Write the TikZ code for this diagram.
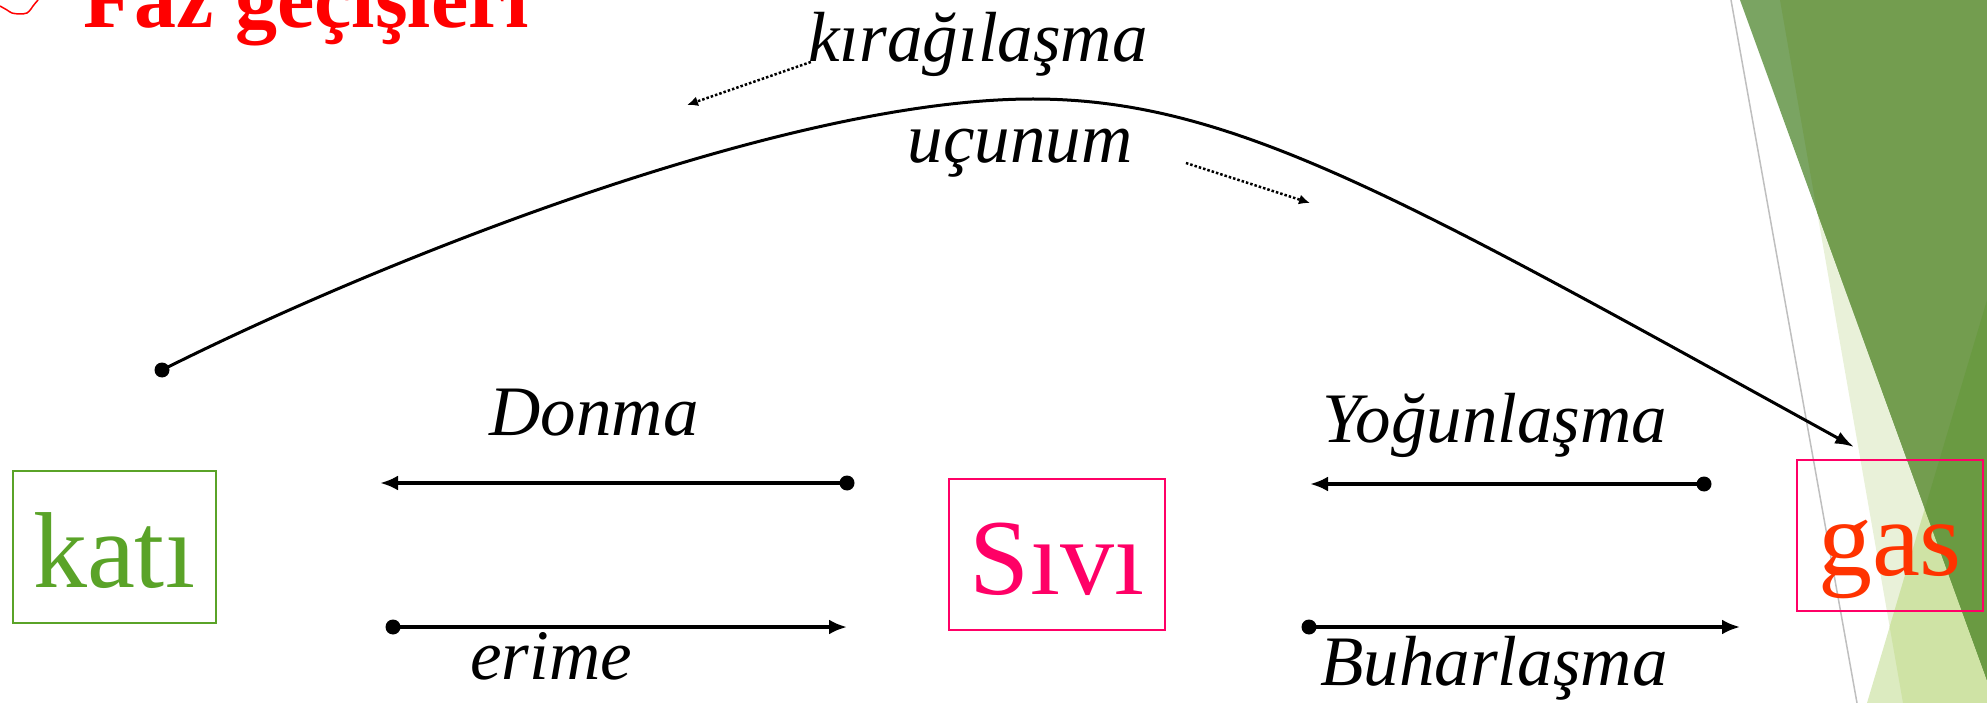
\documentclass[tikz,border=0pt]{standalone}
\usepackage{fontspec}
\setmainfont{Liberation Serif}
\usepackage{xcolor}
\usetikzlibrary{arrows.meta,calc,positioning}

\definecolor{katigreen}{RGB}{90,163,40}
\definecolor{sivipink}{RGB}{255,0,102}
\definecolor{gasred}{RGB}{255,51,0}
\definecolor{titlered}{RGB}{255,0,0}
\definecolor{leafpale}{RGB}{233,241,217}
\definecolor{leaflight}{RGB}{220,235,192}
\definecolor{leaflightb}{RGB}{207,227,165}
\definecolor{leafdark}{RGB}{122,164,98}
\definecolor{leafdarkb}{RGB}{115,157,79}
\definecolor{leafdarkc}{RGB}{106,154,66}

\begin{document}
\begin{tikzpicture}[x=1pt,y=-1pt,
    phase/.style={draw, line width=2pt, inner sep=0pt, text height=80pt, text depth=0pt,
        font=\fontsize{108}{120}\selectfont},
    term/.style={anchor=base, font=\fontsize{71}{80}\selectfont\itshape},
    trans/.style={line width=3.5pt, -{Latex[length=18pt,width=15pt]}},
    hint/.style={line width=2.5pt, dash pattern=on 2.5pt off 2pt, -{Latex[length=11pt,width=10pt]}}]

    \clip (0,0) rectangle (1987,703);

    % Arka plan
    \fill[leafpale] (1780,0) -- (1903,703) -- (1987,703) -- (1987,0) -- cycle;
    \fill[leaflight] (1867,703) -- (1987,300) -- (1987,703) -- cycle;
    \begin{scope}
        \clip (1780,0) -- (1903,703) -- (1987,703) -- (1987,0) -- cycle;
        \fill[leaflightb] (1867,703) -- (1987,300) -- (1987,703) -- cycle;
    \end{scope}
    \fill[leafdark] (1740,0) -- (1987,0) -- (1987,680) -- cycle;
    \begin{scope}
        \clip (1780,0) -- (1903,703) -- (1987,703) -- (1987,0) -- cycle;
        \fill[leafdarkb] (1740,0) -- (1987,0) -- (1987,680) -- cycle;
    \end{scope}
    \begin{scope}
        \clip (1867,703) -- (1987,300) -- (1987,703) -- cycle;
        \fill[leafdarkc] (1740,0) -- (1987,0) -- (1987,680) -- cycle;
    \end{scope}
    \draw[line width=1.5pt, black!25] (1731,0) -- (1857,703);

    % Baslik
    \draw[titlered, line width=1.5pt] plot[smooth] coordinates
        {(0,6) (7,10) (12,13) (20,14) (27,13) (31,9) (33,6) (38,0)};
    \node[anchor=base west, text=titlered, font=\fontsize{84}{90}\selectfont\bfseries]
        (baslik) at (80,28) {Faz geçişleri};

    % Fazlar
    \node[phase, draw=katigreen, text=katigreen, minimum width=203pt, minimum height=152pt]
        (kati) at (114,547) {katı};
    \node[phase, draw=sivipink, text=sivipink, minimum width=216pt, minimum height=151pt]
        (sivi) at (1057,554.5) {Sıvı};
    \node[phase, draw=sivipink, text=gasred, minimum width=186pt, minimum height=151pt]
        (gas) at (1890,535.5) {gas};

    % Etiketler
    \node[term] (kirag) at (978,62) {kırağılaşma};
    \node[term] (ucunum) at (1020,163) {uçunum};
    \node[term] (donma) at (594,435) {Donma};
    \node[term] (erime) at (551,679) {erime};
    \node[term] (yogun) at (1495,442) {Yoğunlaşma};
    \node[term] (buhar) at (1494,685) {Buharlaşma};

    % Uc noktalar
    \coordinate (kurvS) at (162,370);
    \coordinate (kurvT) at (1033,99);
    \coordinate (kurvE) at (1854,447);
    \coordinate (donS) at (847,483);
    \coordinate (donE) at (380,483);
    \coordinate (eriS) at (393,627);
    \coordinate (eriE) at (847,627);
    \coordinate (yogS) at (1704,484);
    \coordinate (yogE) at (1310,484);
    \coordinate (buhS) at (1309,627);
    \coordinate (buhE) at (1740,627);
    \coordinate (kiragE) at (687,105);
    \coordinate (ucuE) at (1310,203);

    % Gecisler
    \draw[line width=3pt, -{Latex[length=19pt,width=13pt]}]
        (kurvS) .. controls (375,263) and (783,99) .. (kurvT)
                .. controls (1233,99) and (1404,199) .. (kurvE);
    \draw[trans] (donS) -- (donE);
    \draw[trans] (eriS) -- (eriE);
    \draw[trans] (yogS) -- (yogE);
    \draw[trans] (buhS) -- (buhE);
    \foreach \p in {kurvS,donS,eriS,yogS,buhS}
        \fill (\p) circle (7.5);

    \draw[hint] ([xshift=6pt]kirag.base west) -- (kiragE);
    \draw[hint] ([xshift=50pt]ucunum.base east) -- (ucuE);
\end{tikzpicture}
\end{document}
